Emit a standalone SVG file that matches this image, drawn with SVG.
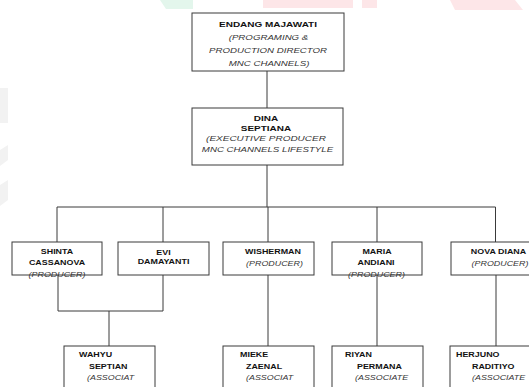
<svg xmlns="http://www.w3.org/2000/svg" width="529" height="387" viewBox="0 0 529 387">
<style>
.box{fill:#fff;stroke:#3a3a3a;stroke-width:1}
.c{fill:none;stroke:#3a3a3a;stroke-width:1}
text{font-family:"Liberation Sans",Arial,sans-serif}
.b{font-weight:bold;fill:#111}
.i{font-style:italic;fill:#333}
.m{text-anchor:middle}
.t10{font-size:10px}
.t97{font-size:9.7px}
.t9{font-size:8.9px}
.wm{stroke:none}
</style>
<g id="watermark">
<polygon class="wm" points="160,0 193,0 193,9 166,9" fill="#e3f6ec"/>
<rect class="wm" x="263" y="0" width="90" height="8" fill="#fde6e8"/>
<rect class="wm" x="362" y="0" width="15" height="8" fill="#fde6e8"/>
<polygon class="wm" points="450,0 515,0 523,10 455,10" fill="#fde6e8"/>
<rect class="wm" x="0" y="88" width="8" height="35" fill="#f2f2f2"/>
<polygon class="wm" points="0,150 8,145 8,160 0,166" fill="#f2f2f2"/>
<polygon class="wm" points="0,185 8,180 8,200 0,206" fill="#f2f2f2"/>
</g>
<g id="connectors">
<line class="c" x1="267" y1="71" x2="267" y2="108"/>
<line class="c" x1="267" y1="165" x2="267" y2="207"/>
<line class="c" x1="57" y1="207" x2="495.5" y2="207"/>
<line class="c" x1="57" y1="207" x2="57" y2="242"/>
<line class="c" x1="163" y1="207" x2="163" y2="242"/>
<line class="c" x1="268" y1="207" x2="268" y2="242"/>
<line class="c" x1="377" y1="207" x2="377" y2="242"/>
<line class="c" x1="495.5" y1="207" x2="495.5" y2="242"/>
<polyline class="c" points="58,275 58,311 163,311 163,275"/>
<line class="c" x1="109" y1="311" x2="109" y2="346"/>
<line class="c" x1="268" y1="275" x2="268" y2="346"/>
<line class="c" x1="377" y1="275" x2="377" y2="346"/>
<line class="c" x1="496" y1="275" x2="496" y2="346"/>
</g>
<g id="endang">
<rect class="box" x="192" y="13" width="152" height="58"/>
<text class="b m t10" transform="translate(268,27) scale(1,0.77)">ENDANG MAJAWATI</text>
<text class="i m t97" transform="translate(268.5,40) scale(1,0.77)">(PROGRAMING &amp;</text>
<text class="i m t97" transform="translate(268,53) scale(1,0.77)">PRODUCTION DIRECTOR</text>
<text class="i m t97" transform="translate(269,66) scale(1,0.77)">MNC CHANNELS)</text>
</g>
<g id="dina">
<rect class="box" x="192" y="108" width="151" height="57"/>
<text class="b m t10" transform="translate(266,121) scale(1,0.77)">DINA</text>
<text class="b m t10" transform="translate(266,130.5) scale(1,0.77)">SEPTIANA</text>
<text class="i m t10" transform="translate(266,141) scale(1,0.77)">(EXECUTIVE PRODUCER</text>
<text class="i m t97" transform="translate(267.5,151.5) scale(1,0.77)">MNC CHANNELS LIFESTYLE</text>
</g>
<g id="shinta">
<rect class="box" x="12" y="242" width="90" height="33"/>
<text class="b m t9" transform="translate(57,254) scale(1,0.77)">SHINTA</text>
<text class="b m t9" transform="translate(57,264.5) scale(1,0.77)">CASSANOVA</text>
<text class="i m t9" transform="translate(57,276.5) scale(1,0.77)">(PRODUCER)</text>
</g>
<g id="evi">
<rect class="box" x="118" y="242" width="91" height="33"/>
<text class="b m t9" transform="translate(163.5,255) scale(1,0.77)">EVI</text>
<text class="b m t9" transform="translate(163.5,264) scale(1,0.77)">DAMAYANTI</text>
</g>
<g id="wisherman">
<rect class="box" x="223" y="242" width="91" height="33"/>
<text class="b m t9" transform="translate(273,254) scale(1,0.77)">WISHERMAN</text>
<text class="i m t9" transform="translate(274.5,266) scale(1,0.77)">(PRODUCER)</text>
</g>
<g id="maria">
<rect class="box" x="332" y="242" width="90" height="33"/>
<text class="b m t9" transform="translate(377,254) scale(1,0.77)">MARIA</text>
<text class="b m t9" transform="translate(376,264.5) scale(1,0.77)">ANDIANI</text>
<text class="i m t9" transform="translate(376.5,276.5) scale(1,0.77)">(PRODUCER)</text>
</g>
<g id="nova">
<rect class="box" x="451" y="242" width="80" height="33"/>
<text class="b m t9" transform="translate(498.5,254) scale(1,0.77)">NOVA DIANA</text>
<text class="i m t9" transform="translate(500,266) scale(1,0.77)">(PRODUCER)</text>
</g>
<g id="wahyu">
<rect class="box" x="64" y="346" width="91" height="60"/>
<text class="b t9" transform="translate(79,357) scale(1,0.77)">WAHYU</text>
<text class="b t9" transform="translate(89,368.5) scale(1,0.77)">SEPTIAN</text>
<text class="i t9" transform="translate(87,380) scale(1,0.77)">(ASSOCIAT</text>
<text class="i t9" transform="translate(89,392.5) scale(1,0.77)">E</text>
</g>
<g id="mieke">
<rect class="box" x="223" y="346" width="91" height="60"/>
<text class="b t9" transform="translate(240,357) scale(1,0.77)">MIEKE</text>
<text class="b t9" transform="translate(246,368.5) scale(1,0.77)">ZAENAL</text>
<text class="i t9" transform="translate(246,380) scale(1,0.77)">(ASSOCIAT</text>
<text class="i t9" transform="translate(248,392.5) scale(1,0.77)">E</text>
</g>
<g id="riyan">
<rect class="box" x="332" y="346" width="91" height="60"/>
<text class="b t9" transform="translate(345,357) scale(1,0.77)">RIYAN</text>
<text class="b t9" transform="translate(357,368.5) scale(1,0.77)">PERMANA</text>
<text class="i t9" transform="translate(355,380) scale(1,0.77)">(ASSOCIATE</text>
<text class="i t9" transform="translate(357,392.5) scale(1,0.77)">PRODUCER)</text>
</g>
<g id="herjuno">
<rect class="box" x="450" y="346" width="85" height="60"/>
<text class="b t9" transform="translate(456,357) scale(1,0.77)">HERJUNO</text>
<text class="b t9" transform="translate(472,368.5) scale(1,0.77)">RADITIYO</text>
<text class="i t9" transform="translate(472,380) scale(1,0.77)">(ASSOCIATE</text>
<text class="i t9" transform="translate(474,392.5) scale(1,0.77)">PRODUCER)</text>
</g>
</svg>
